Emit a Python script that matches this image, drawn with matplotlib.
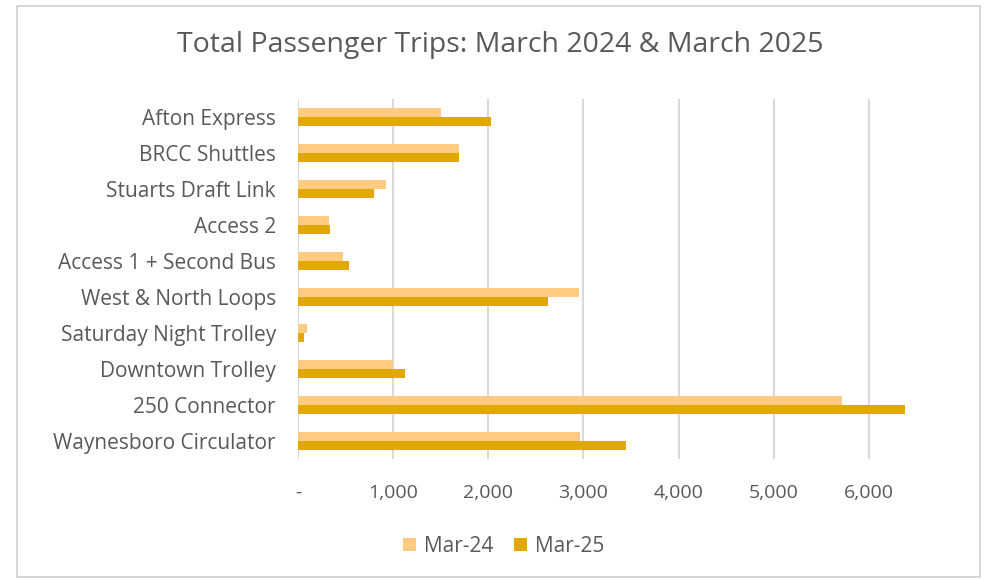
import matplotlib
matplotlib.use("Agg")
import matplotlib.pyplot as plt
from matplotlib.patches import Rectangle
import numpy as np

categories = ["Afton Express", "BRCC Shuttles", "Stuarts Draft Link", "Access 2",
              "Access 1 + Second Bus", "West & North Loops", "Saturday Night Trolley",
              "Downtown Trolley", "250 Connector", "Waynesboro Circulator"]
mar24 = [1505, 1695, 928, 326, 473, 2950, 95, 1000, 5715, 2965]
mar25 = [2030, 1695, 795, 336, 539, 2630, 66, 1120, 6375, 3450]
series_labels = ["Mar-24", "Mar-25"]
xticks = [0, 1000, 2000, 3000, 4000, 5000, 6000]
xticklabels = ["-", "1,000", "2,000", "3,000", "4,000", "5,000", "6,000"]

plt.rcParams['font.family'] = ['Open Sans', 'DejaVu Sans']
W, H = 986, 579
fig = plt.figure(figsize=(W / 100, H / 100), dpi=100)
fig.patch.set_facecolor("white")
fig.patches.append(Rectangle((17 / W, 1 - 577 / H), (980 - 17) / W, (577 - 6) / H,
                             transform=fig.transFigure, fill=False,
                             edgecolor="#D0D0D0", linewidth=1.2))

left, right, top, bottom = 298, 907, 99, 459
ax = fig.add_axes([left / W, 1 - bottom / H, (right - left) / W, (bottom - top) / H])

y = np.arange(len(categories))
h = 0.26
c24 = "#FFCA82"
c25 = "#E0A800"
ax.barh(y - h / 2, mar24, height=h, color=c24, label=series_labels[0], zorder=3)
ax.barh(y + h / 2, mar25, height=h, color=c25, label=series_labels[1], zorder=3)

ax.set_ylim(len(categories) - 0.5, -0.5)
ax.set_xlim(0, 6400)
ax.set_yticks(y)
ax.set_yticklabels(categories, fontsize=15, color="#595959")
ax.set_xticks(xticks)
ax.set_xticklabels(xticklabels, fontsize=14, color="#595959")
ax.tick_params(axis="y", length=0, pad=16)
ax.tick_params(axis="x", length=0, pad=18)
ax.grid(axis="x", color="#D9D9D9", linewidth=1.5, zorder=0)
for s in ax.spines.values():
    s.set_visible(False)

fig.text(500 / W, 1 - 45 / H, "Total Passenger Trips: March 2024 & March 2025",
         ha="center", va="center", fontsize=20.5, color="#595959")

leg = fig.legend(loc="center", bbox_to_anchor=(504 / W, 1 - 546 / H), ncol=2, frameon=False,
                 fontsize=15, handlelength=0.6, handleheight=0.6, columnspacing=1.0,
                 handletextpad=0.4)
for t in leg.get_texts():
    t.set_color("#595959")

fig.savefig("out.png", dpi=100)
